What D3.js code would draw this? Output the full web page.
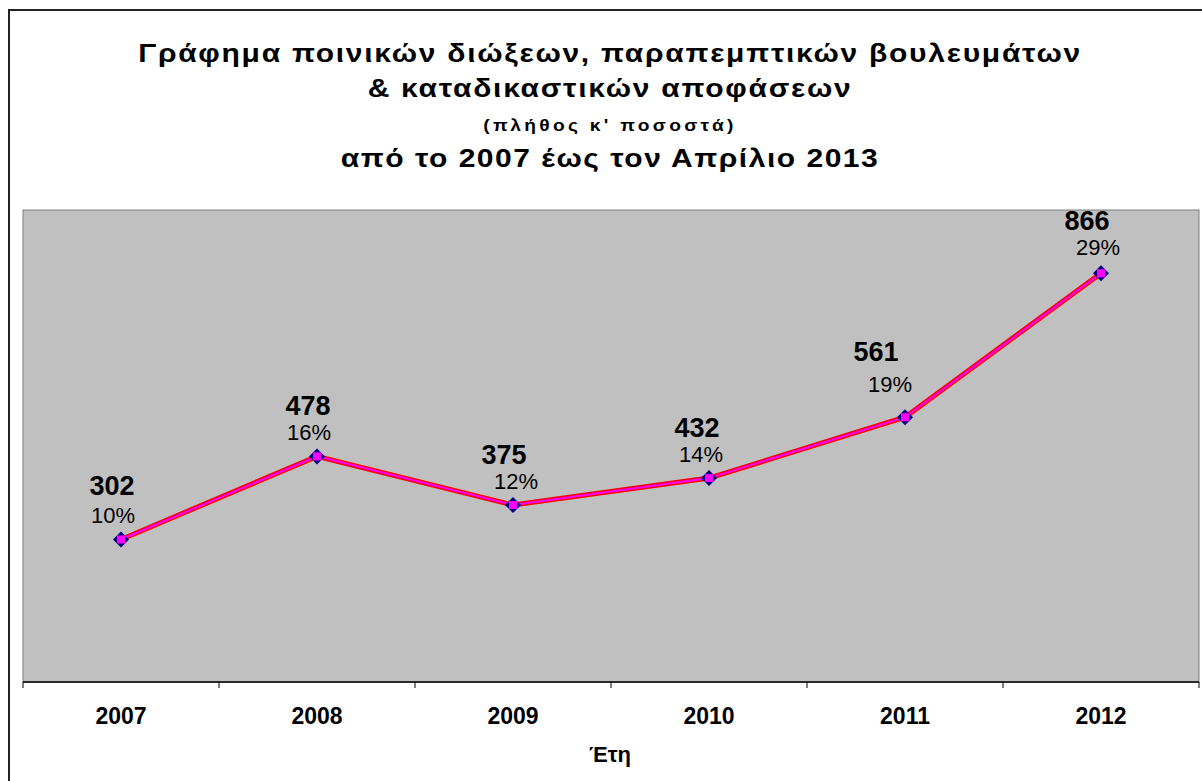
<!DOCTYPE html>
<html>
<head>
<meta charset="utf-8">
<script src="https://cdn.jsdelivr.net/npm/d3@7"></script>
<style>
  body { margin: 0; background: #fff; }
  svg { display: block; font-family: "Liberation Sans", Arial, sans-serif; }
</style>
</head>
<body>
<div id="chart"></div>
<script>
// data
const years = ['2007', '2008', '2009', '2010', '2011', '2012'];
const counts = [302, 478, 375, 432, 561, 866];
const shares = [10, 16, 12, 14, 19, 29];
const yTicks = [0, 1000];
// label nudges (px) for the value/percent pairs, as placed in the original
const labelDx = [-9, -9, -9, -12, -29, -14];
const pctDx = [-8, -8, 3, -8, -15, -3];
const labelDy = [-44, -41, -41, -41, -56, -43];
const pctDy = [-16, -16, -16, -16, -25, -18];

const W = 1202, H = 781;
const m = { left: 23, right: 3, top: 210, bottom: 99 };

const svg = d3.select('#chart').append('svg')
  .attr('width', W).attr('height', H);

// outer chart frame
svg.append('rect')
  .attr('x', 9).attr('y', 10).attr('width', 1200).attr('height', 800)
  .attr('fill', '#fff').attr('stroke', '#222').attr('stroke-width', 2);

const x = d3.scaleBand().domain(years).range([m.left, W - m.right]);
const y = d3.scaleLinear().domain(d3.extent(yTicks)).range([H - m.bottom, m.top]);

// plot area
svg.append('rect')
  .attr('x', m.left).attr('y', m.top)
  .attr('width', W - m.left - m.right).attr('height', H - m.top - m.bottom)
  .attr('fill', '#c0c0c0').attr('stroke', '#808080').attr('stroke-width', 1);

// x axis with ticks between categories
const xAxis = svg.append('g').attr('transform', `translate(0,${H - m.bottom})`);
xAxis.append('line')
  .attr('x1', m.left).attr('x2', W - m.right)
  .attr('stroke', '#000').attr('stroke-width', 1.5);
xAxis.selectAll('.tick').data(years.concat(['end']))
  .join('line')
  .attr('x1', (d, i) => i < years.length ? x(d) : x(years[years.length - 1]) + x.bandwidth())
  .attr('x2', (d, i) => i < years.length ? x(d) : x(years[years.length - 1]) + x.bandwidth())
  .attr('y1', 0).attr('y2', 6)
  .attr('stroke', '#000');
xAxis.selectAll('text').data(years)
  .join('text')
  .attr('x', d => x(d) + x.bandwidth() / 2)
  .attr('y', 42)
  .attr('text-anchor', 'middle')
  .attr('font-weight', 'bold').attr('font-size', 23)
  .text(d => d);

svg.append('text')
  .attr('x', 610).attr('y', 762)
  .attr('text-anchor', 'middle')
  .attr('font-weight', 'bold').attr('font-size', 22)
  .text('Έτη');

// line
const pts = years.map((yr, i) => [x(yr) + x.bandwidth() / 2, y(counts[i])]);
const line = d3.line();
svg.append('path').attr('d', line(pts))
  .attr('fill', 'none').attr('stroke', '#ff0000').attr('stroke-width', 5);
svg.append('path').attr('d', line(pts))
  .attr('fill', 'none').attr('stroke', '#ff00ff').attr('stroke-width', 2);

// markers
const mk = svg.append('g').selectAll('g').data(pts).join('g')
  .attr('transform', d => `translate(${d[0]},${d[1]})`);
mk.append('path').attr('d', 'M0,-8L8,0L0,8L-8,0Z').attr('fill', '#000080');
mk.append('rect').attr('x', -4).attr('y', -4).attr('width', 8).attr('height', 8)
  .attr('fill', '#ff00ff');

// data labels
svg.append('g').selectAll('text').data(pts).join('text')
  .attr('x', (d, i) => d[0] + labelDx[i])
  .attr('y', (d, i) => d[1] + labelDy[i])
  .attr('text-anchor', 'middle')
  .attr('font-weight', 'bold').attr('font-size', 27)
  .text((d, i) => counts[i]);
svg.append('g').selectAll('text').data(pts).join('text')
  .attr('x', (d, i) => d[0] + pctDx[i])
  .attr('y', (d, i) => d[1] + pctDy[i])
  .attr('text-anchor', 'middle')
  .attr('font-size', 22)
  .text((d, i) => shares[i] + '%');

// title: the original glyphs are a bit wider than Arial, so stretch and space them
const title = [
  { t: 'Γράφημα ποινικών διώξεων, παραπεμπτικών βουλευμάτων', y: 62, s: 25, w: 942 },
  { t: '& καταδικαστικών αποφάσεων', y: 97, s: 25, w: 483 },
  { t: '(πλήθος κ\' ποσοστά)', y: 131, s: 16, w: 250 },
  { t: 'από το 2007 έως τον Απρίλιο 2013', y: 167, s: 25, w: 537 }
];
const sx = 1.2;
svg.append('g').selectAll('text').data(title).join('text')
  .attr('x', 0).attr('y', d => d.y)
  .attr('transform', `translate(610,0) scale(${sx},1)`)
  .attr('text-anchor', 'middle')
  .style('font-weight', 'bold').style('font-size', d => d.s + 'px')
  .text(d => d.t)
  .each(function(d) {
    const nat = this.getComputedTextLength();
    const sp = Math.max(0, (d.w / sx - nat) / (d.t.length - 1));
    d3.select(this).style('letter-spacing', sp + 'px');
  });
</script>
</body>
</html>
